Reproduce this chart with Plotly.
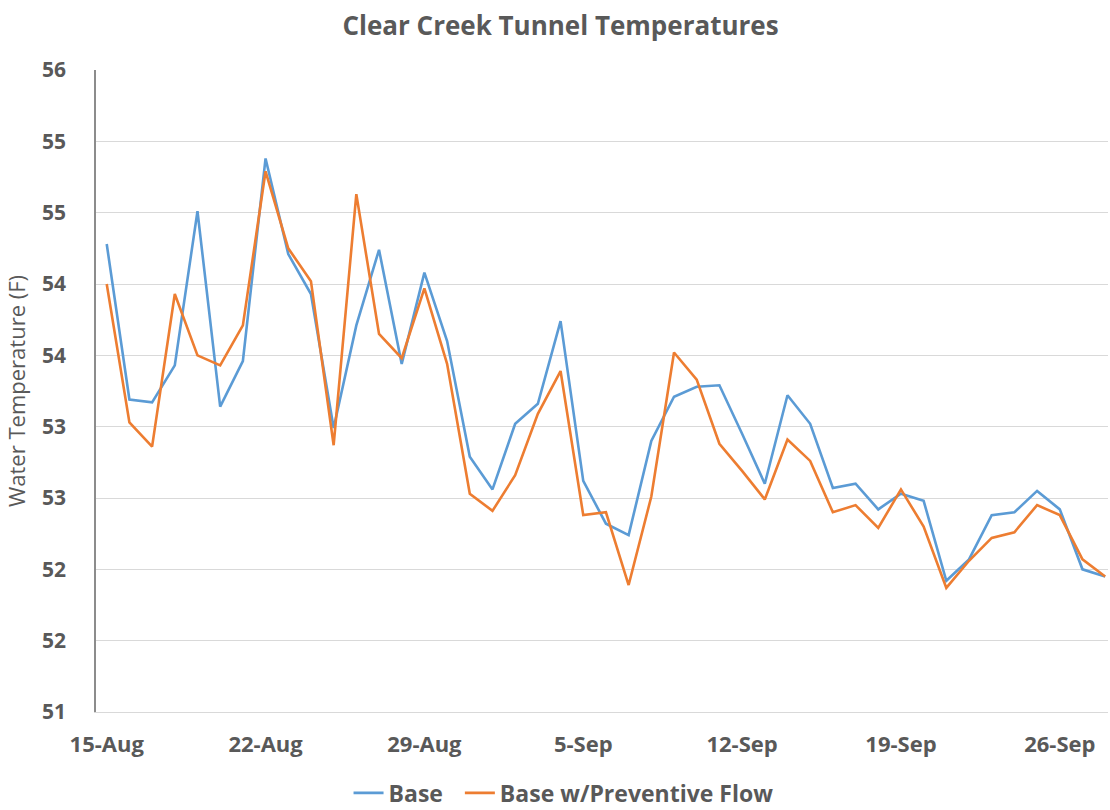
import plotly.graph_objects as go
import pandas as pd

dates = pd.date_range("2023-08-15", "2023-09-28", freq="D")

base = [54.28, 53.19, 53.17, 53.43, 54.51, 53.14, 53.46, 54.88, 54.21, 53.93,
        52.99, 53.71, 54.24, 53.44, 54.08, 53.60, 52.79,
        52.56, 53.02, 53.16, 53.74, 52.62, 52.32, 52.24, 52.90, 53.21, 53.28,
        53.29, 52.95, 52.60, 53.22, 53.02, 52.57, 52.60, 52.42, 52.53, 52.48,
        51.92, 52.07, 52.38, 52.40, 52.55, 52.42, 52.00, 51.95]

preventive = [54.00, 53.03, 52.86, 53.93, 53.50, 53.43, 53.71, 54.79, 54.25, 54.02,
              52.87, 54.63, 53.65, 53.48, 53.97, 53.44, 52.53,
              52.41, 52.66, 53.09, 53.39, 52.38, 52.40, 51.89, 52.51, 53.52, 53.33,
              52.88, 52.69, 52.49, 52.91, 52.76, 52.40, 52.45, 52.29, 52.56, 52.30,
              51.87, 52.06, 52.22, 52.26, 52.45, 52.38, 52.07, 51.95]

x_tick_dates = ["2023-08-15", "2023-08-22", "2023-08-29", "2023-09-05",
                "2023-09-12", "2023-09-19", "2023-09-26"]
x_tick_labels = ["15-Aug", "22-Aug", "29-Aug", "5-Sep", "12-Sep", "19-Sep", "26-Sep"]

y_tick_vals = [51, 51.5, 52, 52.5, 53, 53.5, 54, 54.5, 55, 55.5]
y_tick_labels = ["51", "52", "52", "53", "53", "54", "54", "55", "55", "56"]

FONT = "Open Sans"
GRAY = "#595959"

fig = go.Figure()
fig.add_trace(go.Scatter(x=dates, y=base, mode="lines", name="<b>Base</b>  ",
                         line=dict(color="#5b9bd5", width=2.6)))
fig.add_trace(go.Scatter(x=dates, y=preventive, mode="lines",
                         name="<b>Base w/Preventive Flow</b>",
                         line=dict(color="#ed7d31", width=2.6)))

fig.update_layout(
    width=1110, height=810,
    margin=dict(l=96, r=2, t=70, b=98, autoexpand=False),
    paper_bgcolor="white", plot_bgcolor="white",
    font=dict(family=FONT, color=GRAY),
    title=dict(text="<b>Clear Creek Tunnel Temperatures</b>", x=0.505, xanchor="center",
               y=0.968, yanchor="middle", font=dict(size=26, color=GRAY, family=FONT)),
    showlegend=True,
    legend=dict(orientation="h", x=0.462, xanchor="center", y=-0.126, yanchor="middle",
                font=dict(size=23, color=GRAY, family=FONT), itemwidth=30),
    xaxis=dict(
        type="date",
        range=["2023-08-14 12:40", "2023-09-28 03:00"],
        tickvals=x_tick_dates,
        ticktext=["<b>%s</b>" % t for t in x_tick_labels],
        tickfont=dict(size=22, color=GRAY, family=FONT),
        showgrid=False, zeroline=False,
        showline=True, linecolor="#d9d9d9", linewidth=1,
        ticks="", ticklabelstandoff=13, automargin=False,
    ),
    yaxis=dict(
        range=[51, 55.5],
        tickvals=y_tick_vals, ticktext=["<b>%s</b>" % t for t in y_tick_labels],
        tickfont=dict(size=21, color=GRAY, family=FONT),
        showgrid=True, gridcolor="#d9d9d9", gridwidth=1,
        zeroline=False,
        showline=True, linecolor="#8c8c8c", linewidth=1.5,
        ticks="", ticklabelstandoff=24, automargin=False,
        title=dict(text="Water Temperature (F)", font=dict(size=22, color=GRAY, family=FONT),
                   standoff=10),
    ),
)

fig.write_html("out.html", config={"displayModeBar": False},
               post_script="document.body.style.margin='0px';")
